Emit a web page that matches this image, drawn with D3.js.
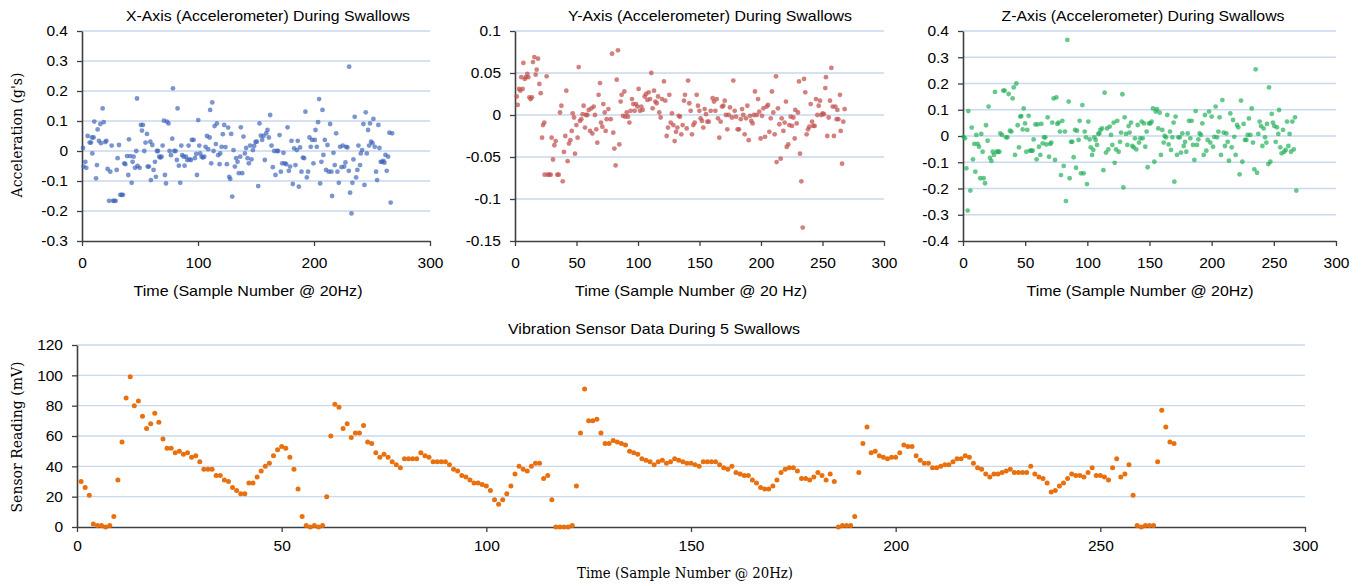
<!DOCTYPE html>
<html>
<head>
<meta charset="utf-8">
<script src="https://cdn.jsdelivr.net/npm/d3@7"></script>
<style>
  body { margin: 0; background: #fff; }
  svg { display: block; }
</style>
</head>
<body>
<svg id="chart" width="1364" height="586"></svg>
<script>
// x-axis accelerometer, [sample, g]
const accelX = [[0.9,0.01],[1.4,-0.052],[2.9,-0.036],[3.7,-0.056],[4.9,0.05],[6.6,0.028],[7.8,0.028],[8.6,0.045],[8.9,-0.008],[10.6,0.098],[10,0.045],[12.1,-0.091],[12.9,-0.047],[13.5,0.072],[14.6,0.034],[15.8,0.09],[16.4,0.026],[17.8,0.142],[18.7,0.096],[20.1,0.03],[21,0.034],[22.1,-0.06],[23.3,-0.166],[24.4,-0.069],[25.6,0.018],[26.7,-0.166],[27.8,-0.166],[29,-0.166],[29.9,-0.063],[30.7,-0.024],[31.9,0.02],[33,-0.146],[34.2,-0.146],[35.3,-0.146],[36.5,-0.041],[37.3,-0.044],[38.8,-0.017],[39.9,-0.08],[40.5,0.039],[41.6,-0.017],[42.8,-0.106],[43.6,-0.036],[44.5,-0.019],[45.7,-0.056],[46.8,0],[47.4,0.175],[47.9,-0.05],[49.7,-0.056],[50.8,0.087],[51.7,0.068],[52.5,0.087],[53.7,0],[54.8,0.028],[56,0.057],[56.6,-0.052],[57.7,-0.052],[58.9,0.031],[59.4,-0.097],[60.6,0.02],[61.7,-0.063],[62.9,-0.036],[63.7,-0.086],[64.6,0],[65.5,0],[66.6,-0.019],[67.5,-0.022],[68.6,-0.019],[69.5,0.018],[70.6,0.101],[71.5,-0.08],[72.4,-0.108],[73.2,0.098],[74.6,0.092],[75.5,0],[76.7,-0.014],[77.8,0.041],[78.4,0.209],[79.5,0],[80.7,0],[81.8,-0.03],[82.4,0.142],[83.5,-0.049],[84.7,-0.106],[85.6,0.018],[86.4,-0.014],[87.6,-0.019],[88.4,-0.049],[89.6,-0.019],[90.7,-0.03],[91.9,0.018],[92.7,-0.028],[93.9,-0.03],[94.7,0.037],[96.2,0.037],[97.3,-0.024],[98.5,-0.01],[99.1,-0.08],[100.2,0.103],[101.1,0.018],[101.9,-0.008],[103.1,-0.019],[104.2,-0.022],[105.4,-0.019],[106.5,0.014],[107.7,0.05],[108.8,0.006],[110,0.045],[110.5,0.137],[111.4,-0.041],[112.3,0.162],[113.4,0],[114.3,0.083],[115.4,0.023],[116.3,0.092],[117.4,-0.014],[118.6,-0.044],[119.2,-0.008],[120.3,0.014],[121.4,0.056],[122.6,0.087],[123.7,0.013],[124.9,-0.044],[126,0.078],[126.9,-0.086],[127.8,-0.093],[128.6,0.057],[129.5,-0.152],[130.6,0.003],[131.8,-0.052],[132.9,-0.024],[134.1,-0.036],[135.2,-0.074],[136.4,-0.019],[136.9,0.079],[138.1,-0.074],[139.2,0.048],[140.4,-0.008],[141.5,0.01],[142.7,-0.024],[143.8,-0.041],[145,0.018],[146.1,-0.028],[147.3,0.003],[148.4,0.017],[149.6,0.03],[150.7,0.031],[151.9,-0.117],[153,0.092],[154.2,0.051],[155.3,0.037],[156.5,0.05],[157.6,-0.03],[158.8,0.059],[159.9,0.07],[161.1,0.045],[162.2,0.12],[163.4,0.018],[164.5,-0.054],[165.7,0],[166.8,-0.08],[168,0],[169.1,0],[170.3,0.053],[171.4,-0.069],[172.6,-0.041],[173.7,-0.006],[174.9,-0.041],[176,-0.044],[177.2,0.079],[178.3,-0.066],[179.4,-0.052],[180.6,0.034],[181.7,-0.11],[182.9,0.009],[184,-0.047],[185.2,0.003],[186,0.034],[186.9,-0.119],[188,0.012],[189.2,-0.069],[190.4,-0.022],[191.5,-0.024],[192.6,0.131],[193.8,-0.088],[194.9,-0.069],[196.1,0.045],[197.2,0.014],[198.4,0.037],[199.5,-0.041],[200.7,0.037],[201.3,0.07],[202.4,0.014],[203.5,0.096],[204.4,0.173],[205.3,-0.108],[206.4,-0.036],[207.3,0.137],[208.1,-0.013],[209.3,0.037],[210.4,-0.063],[211.6,0.02],[212.7,-0.069],[213.9,0.09],[215,-0.069],[215.6,-0.15],[216.8,-0.006],[217.9,-0.047],[219.1,0.059],[220.2,-0.069],[221.4,-0.106],[222.5,0.014],[223.7,-0.054],[224.8,0.018],[226,-0.052],[227.1,-0.038],[227.7,0.014],[228.8,0.012],[230,-0.066],[230.3,0.281],[231.1,-0.139],[232.3,-0.208],[233.1,-0.106],[234,-0.028],[235.1,0.114],[236.3,-0.088],[237.4,-0.063],[238.3,0.018],[239.7,-0.047],[240.3,-0.008],[241.5,0.003],[242.6,0.09],[243.5,-0.113],[244.6,0.129],[245.5,-0.008],[246.6,0.07],[247.5,0.018],[248.3,0.092],[249.2,0.031],[250.4,0.026],[251.2,0.107],[252.4,0.014],[253.5,-0.069],[254.4,-0.097],[255.5,0.087],[256.4,0.01],[257.5,-0.036],[258.7,-0.036],[259.8,-0.033],[260.7,-0.039],[261.6,-0.013],[262.7,-0.066],[263.9,-0.019],[265,0.061],[266.1,-0.172],[267.3,0.059]]

// y-axis accelerometer
const accelY = [[1.4,0.022],[2.2,0.012],[3.3,0.031],[4.3,0.029],[5.1,0.045],[6.2,0.031],[6.8,0.062],[7.9,0.043],[8.9,0.045],[10,0.049],[10.8,0.045],[11.7,0.021],[12.7,0.019],[13.8,0.021],[14.6,0.063],[15.7,0.069],[16.8,0.048],[17.6,0.054],[18.7,0.067],[19.8,0.037],[20.9,0.026],[22,-0.027],[22.8,-0.012],[23.8,-0.009],[24.1,-0.071],[25.7,0.046],[26.6,-0.071],[27.9,-0.071],[29,-0.071],[29.8,-0.027],[30.9,-0.053],[32,-0.036],[33.1,-0.031],[34.4,-0.071],[35.5,-0.071],[36.6,0.003],[37.7,0.011],[38.8,-0.079],[39.8,-0.044],[40.9,-0.025],[41.7,0.029],[42.8,-0.055],[43.9,-0.034],[45,-0.03],[46.1,-0.019],[46.9,0.002],[48,-0.003],[48.8,-0.046],[49.9,-0.012],[50.9,-0.027],[51.8,0.057],[52.8,-0.007],[53.9,-0.005],[55,0.001],[55.8,0.011],[56.9,-0.015],[57.7,0],[58.8,0],[59.9,0.006],[61,-0.019],[62.1,0.008],[62.9,-0.022],[64,0.01],[65,0],[66.1,-0.017],[66.9,-0.033],[68,0.024],[69.1,0.038],[69.9,-0.009],[71,-0.014],[71.8,0.013],[72.9,0.003],[73.7,-0.019],[74.5,-0.005],[75.9,0.007],[77.8,-0.005],[78.9,0.073],[79.9,-0.021],[80.8,-0.04],[81.8,-0.06],[82.7,0.042],[83.7,0.077],[84.8,-0.035],[85.9,0.016],[86.7,0.024],[87.8,-0.001],[88.9,0.028],[89.7,-0.002],[90.8,0.003],[91.9,-0.002],[93,-0.009],[94,0.005],[95.1,0.019],[96.2,0.013],[97.3,0.005],[98.4,0.013],[99.5,0.01],[100.5,0.031],[101.6,0.005],[102.7,0.01],[103.8,0.006],[105.4,0.022],[106.5,0.025],[107.6,0.018],[108.7,0.027],[109.8,0.019],[110.8,0.05],[111.9,0.008],[113,0.029],[114.1,0.016],[115.2,0.014],[116.3,0.022],[117.3,0.003],[118.4,-0.003],[119.5,0.019],[121.1,0.04],[122.2,0.017],[123.3,-0.025],[124.4,-0.015],[125.5,0.024],[126.6,-0.009],[127.6,0.002],[128.7,-0.012],[129.8,-0.031],[130.9,-0.02],[132,-0.015],[133.1,-0.001],[134.1,-0.002],[135.2,-0.023],[136.3,-0.012],[137.4,0.017],[138.2,0.024],[139.6,-0.016],[140.7,0.041],[141.7,0.014],[142.8,0.005],[143.9,-0.023],[145,-0.012],[146.1,-0.009],[147.7,0.024],[148.8,0.011],[149.9,0.005],[150.9,-0.004],[152,-0.007],[153.1,-0.015],[154.2,0.007],[155.3,0.001],[156.4,-0.008],[157.5,-0.008],[159.1,0.005],[160.7,0.02],[161.8,0.016],[162.9,0.005],[164,0.019],[165,-0.004],[166.1,-0.027],[167.2,-0.008],[168.3,0.01],[169.4,0.011],[170.5,0.017],[171.5,0],[172.6,-0.017],[173.7,0],[174.8,0.009],[176.4,-0.003],[177.5,0.041],[178.6,0.005],[179.7,-0.002],[181,-0.017],[182.1,-0.017],[183.5,-0.005],[184.6,0.007],[185.6,0],[186.7,-0.023],[187.8,-0.004],[188.9,0.011],[190,-0.03],[191.1,-0.001],[192.1,-0.007],[193.2,-0.01],[194.3,0],[195.1,0.028],[196.5,0],[197.6,0.019],[198.6,0.004],[199.7,-0.028],[200.8,-0.001],[201.9,0.008],[203.3,-0.026],[204.6,0.01],[205.7,0.012],[206.8,-0.02],[207.9,-0.004],[208.9,0.028],[210,0.003],[211.1,-0.023],[212.2,0.046],[212.7,-0.056],[213.8,0.008],[214.9,-0.011],[216,-0.052],[216.8,-0.004],[218.2,-0.019],[219.2,-0.009],[220.3,0.016],[220.9,-0.038],[222.2,-0.035],[223,-0.012],[224.1,-0.002],[225.2,-0.013],[226.3,-0.003],[227.4,-0.028],[227.9,0.006],[229,-0.01],[230.1,0.003],[230.9,0.04],[231.7,-0.046],[232.8,-0.079],[233.9,-0.134],[235,0.043],[236,0.027],[237.1,-0.023],[238.2,-0.017],[239.3,-0.014],[240.4,0.013],[241.5,-0.008],[242.5,-0.013],[243.6,-0.013],[244.7,0.019],[245.8,0],[246.9,0.011],[248,0.017],[249.1,0],[250.1,0.002],[251.2,0.001],[252.3,0.032],[252.8,0.045],[253.9,-0.025],[255,-0.003],[256.1,0.017],[257.2,0.056],[258.3,0.01],[259.3,-0.025],[260.4,0.01],[261.5,-0.005],[262.1,0.006],[262.9,-0.005],[264.2,0.024],[264.8,-0.019],[265.9,-0.058],[266.9,-0.008],[268,0.007]]

// z-axis accelerometer
const accelZ = [[0.5,-0.003],[1.6,-0.009],[2.7,-0.123],[4.3,0.095],[3.8,-0.284],[5.9,-0.208],[7,0.032],[8,-0.089],[9.1,-0.03],[9.9,-0.136],[10.7,0.004],[11.8,-0.03],[12.9,-0.041],[13.9,-0.161],[14.7,0.008],[15.8,-0.06],[16.6,-0.161],[17.7,-0.18],[18.5,0.041],[19.8,-0.018],[20.6,0.112],[21.7,-0.083],[22.8,-0.095],[23.9,-0.06],[24.9,-0.072],[25.7,0.168],[27.1,-0.06],[28.2,-0.06],[29.2,-0.06],[30,0.01],[31.4,0.004],[32.4,0.173],[33.5,0.173],[34.6,-0.005],[35.7,-0.005],[36.7,0.16],[37.8,0.02],[38.9,0.017],[39.9,0.143],[40.8,0.185],[41.8,-0.072],[42.9,0.2],[44,0.041],[45,-0.043],[46.1,0.074],[46.9,0.076],[48,0.025],[48.8,0.105],[49.9,0.048],[50.9,-0.06],[51.7,0.023],[52.8,0.077],[53.9,-0.056],[55,-0.056],[56,-0.056],[56.8,-0.013],[58.2,0.044],[59.2,-0.089],[60,0.044],[61.1,-0.041],[62.2,-0.072],[63,0.046],[64.1,-0.028],[65.1,-0.005],[66.2,-0.005],[67,-0.032],[68.1,0.071],[69.2,-0.079],[70.2,-0.03],[71,-0.025],[71.8,0.051],[72.9,0.143],[74,-0.091],[75.1,0.147],[75.9,0.046],[76.9,0.051],[78,0.017],[78.8,-0.149],[79.9,0.058],[81,-0.114],[82,0.017],[82.8,-0.248],[83.9,0.366],[85,0.131],[85.8,-0.161],[86.9,-0.022],[87.9,-0.022],[89,-0.081],[90.1,0.023],[90.9,-0.121],[91.7,0.02],[93,-0.015],[93.8,0.058],[94.9,-0.142],[96,0.118],[97,-0.142],[97.9,0.017],[98.9,-0.005],[99.7,-0.183],[100.8,0.055],[101.9,-0.013],[102.7,-0.043],[103.8,-0.072],[104.8,-0.053],[105.6,-0.005],[106.7,-0.015],[107.8,-0.034],[108.8,0.008],[109.7,0.01],[110.5,0.023],[111.8,0.029],[112.9,-0.13],[113.9,0.165],[115,-0.063],[115.8,0.029],[116.9,-0.051],[118,0.036],[119,0.004],[120.1,-0.034],[121.2,0.051],[122,-0.102],[123.1,-0.051],[124.1,0.058],[125.2,-0.06],[126.3,-0.022],[127.1,0.013],[128.2,0.159],[129,-0.196],[130,0.071],[131.1,0.008],[132.2,-0.034],[133.2,0.038],[134,0.013],[135.1,0.051],[136.2,-0.038],[137.3,-0.043],[138.3,-0.009],[139.4,-0.051],[140.5,0.042],[141.6,-0.025],[142.6,-0.009],[143.7,0.055],[144.5,-0.009],[145.6,0.048],[146.6,-0.041],[147.7,0.017],[148.5,-0.119],[149.6,0.048],[150.7,0.048],[151.7,0.055],[152.8,0.105],[153.9,-0.098],[155,0.093],[156,0.102],[157.1,0.029],[158.2,0.089],[159.2,-0.072],[160.3,0.023],[161.4,-0.025],[162.2,0],[163.3,-0.005],[164.3,0.08],[165.4,-0.032],[166.5,0.017],[167.3,-0.053],[168.4,-0.005],[169.4,0.051],[170,-0.174],[171,0.074],[172.1,-0.072],[173.2,-0.005],[174.3,-0.005],[175.3,-0.063],[176.4,0.01],[177.5,-0.038],[178.6,-0.022],[179.6,-0.06],[180.7,0.01],[181.8,0.058],[182.8,-0.009],[183.9,0.058],[185,-0.034],[186.1,-0.091],[187.1,0.095],[188.2,-0.034],[189.3,-0.013],[190.3,0.01],[191.4,0.004],[192.5,0.048],[193.6,-0.072],[194.6,0.08],[195.7,-0.056],[196.8,-0.015],[197.9,0.093],[198.9,-0.025],[200,0.074],[201.1,-0.041],[202.1,-0.003],[203.2,0.112],[204.3,-0.005],[205.4,0.017],[206.4,0.071],[207.5,-0.072],[208.6,0.137],[209.7,0.013],[210.7,-0.038],[211.8,0.01],[212.9,-0.022],[213.9,-0.094],[215,0.086],[216.1,-0.043],[217.2,0.061],[218.2,-0.003],[219.3,-0.072],[220.4,0.042],[221.4,0.033],[222.5,-0.146],[223.6,0.135],[224.7,-0.098],[225.7,0.046],[226.8,-0.015],[227.9,-0.015],[229,0.004],[230,0.067],[231.1,0.004],[232.2,0.105],[233.2,-0.025],[234.3,-0.127],[235.4,0.254],[236.5,-0.14],[237.5,0.008],[238.6,0.055],[239.7,0.038],[240.8,-0.038],[241.8,0.029],[242.9,-0.005],[244,-0.025],[244.5,0.046],[245.6,-0.107],[246.1,0.185],[247.2,-0.098],[248.3,0.084],[249.3,0.051],[250.4,0.038],[251.5,-0.022],[252.5,0.033],[253.6,0.008],[254.2,0.099],[255.2,-0.043],[256.3,-0.066],[257.4,0.023],[258.4,-0.06],[259.5,-0.053],[260.6,0.055],[261.7,-0.038],[262.7,0.008],[263.8,-0.06],[264.9,0.055],[266,-0.051],[267,0.071],[268.1,-0.208]]

// vibration sensor (mV), samples 1..268
const vibration = [30,26,21,2,1,1,0,1,7,31,56,85,99,80,83,73,65,68,75,69,58,52,52,49,50,48,49,46,47,43,
  38,38,38,34,34,31,30,26,24,22,22,29,29,33,37,40,42,47,51,53,52,46,38,25,7,1,0,1,0,1,
  20,60,81,79,65,68,59,62,62,67,56,55,49,46,48,46,43,41,39,45,45,45,45,49,47,46,43,43,43,43,
  41,38,37,34,33,31,29,29,28,27,24,18,15,18,22,27,35,40,38,37,40,42,42,32,34,18,0,0,0,0,
  1,27,62,91,70,70,71,62,55,55,57,56,55,54,50,49,48,45,44,43,41,43,44,42,43,45,44,43,42,42,
  41,40,43,43,43,43,41,39,38,40,36,35,34,34,31,29,26,25,25,27,31,36,38,39,39,37,32,32,31,33,
  36,34,31,35,30,0,1,1,1,7,36,55,66,49,50,47,46,45,46,46,49,54,53,53,47,44,42,42,39,39,
  40,41,41,43,45,45,47,46,42,39,38,35,33,35,35,36,37,38,36,36,36,36,40,35,33,32,29,23,24,27,
  29,32,35,34,34,33,36,39,34,34,33,31,39,45,33,35,41,21,1,0,1,1,1,43,77,66,56,55]

const topXTicks = [0, 100, 200, 300]
const topXTicks50 = [0, 50, 100, 150, 200, 250, 300]
const accelXTicks = [-0.3, -0.2, -0.1, 0, 0.1, 0.2, 0.3, 0.4]
const accelYTicks = [-0.15, -0.1, -0.05, 0, 0.05, 0.1]
const accelZTicks = [-0.4, -0.3, -0.2, -0.1, 0, 0.1, 0.2, 0.3, 0.4]
const vibXTicks = [0, 50, 100, 150, 200, 250, 300]
const vibYTicks = [0, 20, 40, 60, 80, 100, 120]

const sans = '"Liberation Sans", Arial, sans-serif'
const serif = '"DejaVu Serif", "Liberation Serif", serif'
const svg = d3.select("#chart")

// the source picture is a little stretched sideways, so labels get a fixed width
function addLabel(g, txt, x, y, font, size, width) {
    var t = g.append("text")
        .attr("x", x).attr("y", y)
        .attr("text-anchor", "middle")
        .style("font-family", font).style("font-size", size + "px")
        .text(txt)
    if (width) t.attr("textLength", width).attr("lengthAdjust", "spacingAndGlyphs")
    return t
}

function drawPanel(cfg) {
    var x = d3.scaleLinear().domain([cfg.xTicks[0], cfg.xTicks[cfg.xTicks.length - 1]]).range([cfg.left, cfg.right])
    var y = d3.scaleLinear().domain([cfg.yTicks[0], cfg.yTicks[cfg.yTicks.length - 1]]).range([cfg.bottom, cfg.top])
    var g = svg.append("g")

    // light blue gridlines
    g.append("g").selectAll("line")
        .data(cfg.yTicks.slice(1))
        .join("line")
        .attr("x1", cfg.left).attr("x2", cfg.right)
        .attr("y1", d => y(d)).attr("y2", d => y(d))
        .attr("stroke", "#c9d9ee").attr("stroke-width", 1.3)

    var fmt = cfg.fmt || (d => d)
    var xAxis = g.append("g")
        .attr("transform", "translate(0," + cfg.bottom + ")")
        .call(d3.axisBottom(x).tickValues(cfg.xTicks).tickSize(5).tickSizeOuter(0).tickPadding(cfg.xPad))
    var yAxis = g.append("g")
        .attr("transform", "translate(" + cfg.left + ",0)")
        .call(d3.axisLeft(y).tickValues(cfg.yTicks).tickFormat(fmt).tickSize(5).tickSizeOuter(0).tickPadding(9))

    ;[xAxis, yAxis].forEach(a => {
        a.select(".domain").attr("stroke", "#3f3f3f").attr("stroke-width", 1.6)
        a.selectAll(".tick line").attr("stroke", "#3f3f3f").attr("stroke-width", 1.3)
        a.selectAll(".tick text").attr("fill", "#000")
            .style("font-family", sans).style("font-size", cfg.tickSize + "px")
    })

    g.append("g").selectAll("circle")
        .data(cfg.points)
        .join("circle")
        .attr("cx", d => x(d[0]))
        .attr("cy", d => y(d[1]))
        .attr("r", cfg.r)
        .attr("fill", cfg.color)
        .attr("fill-opacity", cfg.opacity)

    addLabel(g, cfg.title, cfg.titleX, cfg.titleY, sans, 15, cfg.titleW)
    addLabel(g, cfg.xLabel, cfg.xLabelX, cfg.xLabelY, cfg.xLabelFont, 15, cfg.xLabelW)

    if (cfg.yLabel) {
        g.append("text")
            .attr("transform", "translate(" + cfg.yLabelX + "," + cfg.yLabelY + ") rotate(-90)")
            .attr("text-anchor", "middle")
            .style("font-family", serif).style("font-size", "14px")
            .text(cfg.yLabel)
    }
}

var decFmt = d => d === 0 ? "0" : String(d)

drawPanel({
    points: accelX, xTicks: topXTicks, yTicks: accelXTicks, fmt: decFmt,
    left: 82, right: 430, top: 31, bottom: 241, xPad: 11, tickSize: 15.5, r: 2.4,
    color: "#3d63b8", opacity: 0.68,
    title: "X-Axis (Accelerometer) During Swallows", titleX: 268, titleY: 21, titleW: 284,
    xLabel: "Time (Sample Number @ 20Hz)", xLabelX: 248, xLabelY: 296, xLabelFont: sans, xLabelW: 229,
    yLabel: "Acceleration (g's)", yLabelX: 22, yLabelY: 135
})

drawPanel({
    points: accelY, xTicks: topXTicks50, yTicks: accelYTicks, fmt: decFmt,
    left: 515, right: 884, top: 31, bottom: 241, xPad: 11, tickSize: 15.5, r: 2.4,
    color: "#c0504d", opacity: 0.72,
    title: "Y-Axis (Accelerometer) During Swallows", titleX: 710, titleY: 21, titleW: 284,
    xLabel: "Time (Sample Number @ 20 Hz)", xLabelX: 691, xLabelY: 296, xLabelFont: sans, xLabelW: 232
})

drawPanel({
    points: accelZ, xTicks: topXTicks50, yTicks: accelZTicks, fmt: decFmt,
    left: 963, right: 1336, top: 31, bottom: 241, xPad: 11, tickSize: 15.5, r: 2.4,
    color: "#1fae55", opacity: 0.68,
    title: "Z-Axis (Accelerometer) During Swallows", titleX: 1143, titleY: 21, titleW: 283,
    xLabel: "Time (Sample Number @ 20Hz)", xLabelX: 1140, xLabelY: 296, xLabelFont: sans, xLabelW: 227
})

drawPanel({
    points: vibration.map((v, i) => [i + 1, v]), xTicks: vibXTicks, yTicks: vibYTicks,
    left: 77, right: 1305, top: 345, bottom: 527, xPad: 8, tickSize: 15.5, r: 2.5,
    color: "#e8700e", opacity: 1,
    title: "Vibration Sensor Data During 5 Swallows", titleX: 654, titleY: 334, titleW: 292,
    xLabel: "Time (Sample Number @ 20Hz)", xLabelX: 685, xLabelY: 578, xLabelFont: serif, xLabelW: 216,
    yLabel: "Sensor Reading (mV)", yLabelX: 22, yLabelY: 437
})
</script>
</body>
</html>
